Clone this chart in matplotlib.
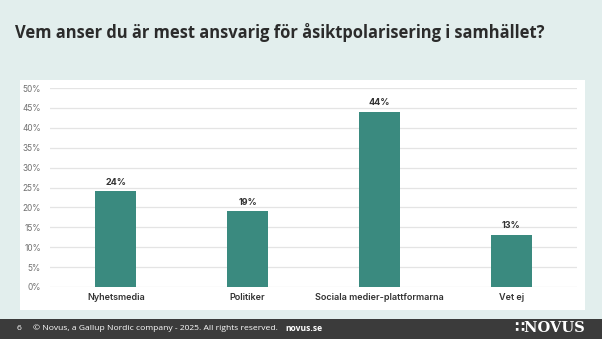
import matplotlib

matplotlib.use('Agg')
import matplotlib.pyplot as plt
from matplotlib.patches import Rectangle

categories = ['Nyhetsmedia', 'Politiker', 'Sociala medier-plattformarna', 'Vet ej']
values = [24, 19, 44, 13]
yticks = [0, 5, 10, 15, 20, 25, 30, 35, 40, 45, 50]

title = 'Vem anser du är mest ansvarig för åsiktpolarisering i samhället?'
footer = '© Novus, a Gallup Nordic company - 2025. All rights reserved.'

W, H = 602, 339
BG = '#e2eeed'
BAR = '#3a8a7f'

fig = plt.figure(figsize=(W / 100, H / 100), dpi=100)
fig.patch.set_facecolor(BG)


def fx(px):
    return px / W


def fy(py):
    return 1 - py / H


# white chart panel
fig.patches.append(Rectangle((fx(20), fy(310)), fx(565), (310 - 80) / H,
                             transform=fig.transFigure, facecolor='white',
                             edgecolor='none', zorder=-5))
# dark footer strip
fig.patches.append(Rectangle((0, 0), 1, (H - 319) / H,
                             transform=fig.transFigure, facecolor='#3b3b3b',
                             edgecolor='none', zorder=-5))

fig.text(fx(15), fy(33), title, fontsize=11.9, fontweight='bold',
         color='#2b2b2b', va='center', ha='left', family='Open Sans')

ax = fig.add_axes([fx(50), fy(287), fx(577 - 50), (287 - 88) / H])
ax.set_facecolor('none')
x = range(len(categories))
bars = ax.bar(x, values, width=0.31, color=BAR, zorder=3)
for b, v in zip(bars, values):
    ax.text(b.get_x() + b.get_width() / 2, v + 1.2, '{}%'.format(v),
            ha='center', va='bottom', fontsize=6.5, fontweight='bold',
            color='#333333', family='Inter')

ax.set_xlim(-0.5, len(categories) - 0.5)
ax.set_ylim(0, 50)
ax.set_yticks(yticks)
ax.set_yticklabels(['{}%'.format(t) for t in yticks], fontsize=6,
                   color='#707070', family='Inter')
ax.set_xticks(list(x))
ax.set_xticklabels(categories, fontsize=6.5, color='#333333', family='Inter',
                   fontweight='semibold')
ax.tick_params(axis='both', length=0, pad=4)
ax.tick_params(axis='y', pad=6.5)
ax.grid(axis='y', color='#e4e4e4', linewidth=0.9, zorder=0)
for s in ax.spines.values():
    s.set_visible(False)

# footer text
fig.text(fx(17), fy(328.5), '6', fontsize=6.1, color='white', va='center',
         family='Open Sans')
fig.text(fx(33), fy(328.5), footer, fontsize=6.1, color='white', va='center',
         family='Open Sans')
fig.text(fx(285), fy(328.5), 'novus.se', fontsize=6.1, color='white',
         va='center', fontweight='bold', family='Open Sans')
fig.text(fx(585), fy(328.5), '∷NOVUS', fontsize=10.5,
         color='white', va='center', ha='right',
         family=['DejaVu Serif', 'DejaVu Sans'], fontweight='bold')

fig.savefig('out.png', dpi=100, facecolor=BG)
